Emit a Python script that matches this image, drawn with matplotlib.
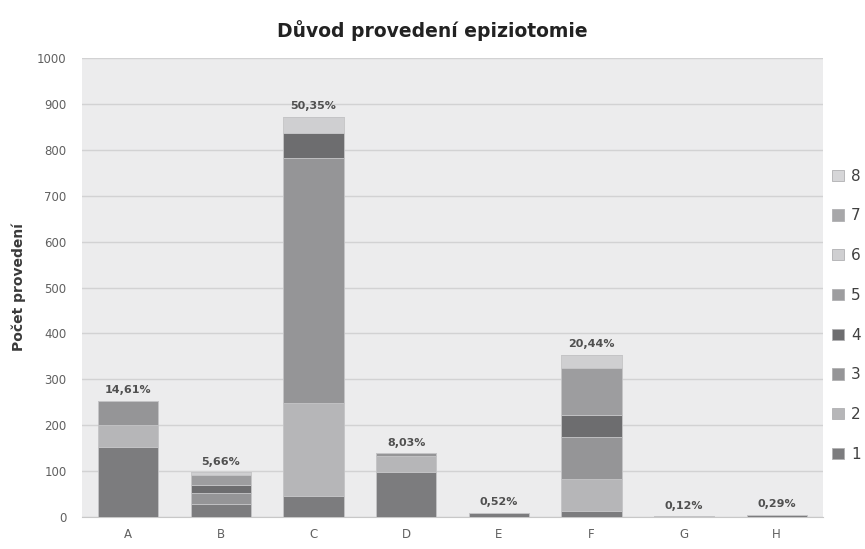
import numpy as np
import matplotlib.pyplot as plt
from matplotlib.patches import Patch

categories = ['A', 'B', 'C', 'D', 'E', 'F', 'G', 'H']
series_names = ['1', '2', '3', '4', '5', '6', '7', '8']

# counts per reason (rows = series 1..8, columns = A..H)
s1 = [153, 29, 46, 99, 9, 14, 2, 5]
s2 = [48, 0, 202, 34, 0, 68, 0, 0]
s3 = [52, 24, 535, 6, 0, 93, 0, 0]
s4 = [0, 16, 53, 0, 0, 48, 0, 0]
s5 = [0, 23, 0, 0, 0, 101, 0, 0]
s6 = [0, 6, 36, 0, 0, 30, 0, 0]
s7 = [0, 0, 0, 0, 0, 0, 0, 0]
s8 = [0, 0, 0, 0, 0, 0, 0, 0]

colors = ['#7c7c7e', '#b6b6b8', '#959597', '#6d6d6f',
          '#9d9d9f', '#cfcfd1', '#a7a7a9', '#d6d6d8']

data = np.array([s1, s2, s3, s4, s5, s6, s7, s8])
totals = data.sum(axis=0)
grand = totals.sum()

fig = plt.figure(figsize=(8.65, 5.49), dpi=100)
ax = fig.add_axes([0.0948, 0.0583, 0.8566, 0.836])
ax.set_facecolor('#ececed')

x = np.arange(len(categories))
bottom = np.zeros(len(categories))
for i, row in enumerate(data):
    ax.bar(x, row, bottom=bottom, width=0.65, color=colors[i],
           edgecolor='#c4c4c6', linewidth=0.6, zorder=3)
    bottom += row

for xi, t in zip(x, totals):
    pct = '{:.2f}%'.format(t / grand * 100).replace('.', ',')
    ax.text(xi, t + 12, pct, ha='center', va='bottom', fontsize=8,
            fontweight='bold', color='#505050', zorder=4)

ax.set_xlim(-0.5, len(categories) - 0.5)
ax.set_ylim(0, 1000)
ax.set_yticks(np.arange(0, 1001, 100))
ax.set_xticks(x)
ax.set_xticklabels(categories)
ax.tick_params(axis='both', length=0, labelsize=8.5, colors='#606060')
ax.tick_params(axis='y', pad=11)
ax.tick_params(axis='x', pad=8)
ax.grid(axis='y', color='#d2d2d3', linewidth=1.0, zorder=0)
for side in ['top', 'right', 'left']:
    ax.spines[side].set_visible(False)
ax.spines['bottom'].set_color('#c8c8c8')

ax.set_ylabel('Počet provedení', fontsize=10, fontweight='bold',
              color='#3a3a3a', labelpad=8)

fig.text(0.5, 0.945, 'Důvod provedení epiziotomie', ha='center',
         va='center', fontsize=13.5, fontweight='bold', color='#222222')

handles = [Patch(facecolor=colors[i], edgecolor='#b0b0b2', linewidth=0.6,
                 label=series_names[i]) for i in range(len(series_names))][::-1]
fig.legend(handles=handles, loc='upper left', bbox_to_anchor=(0.962, 0.693),
           frameon=False, fontsize=11, handlelength=0.75, handleheight=0.75,
           handletextpad=0.5, labelspacing=1.62, borderaxespad=0,
           borderpad=0, labelcolor='#404040')

fig.savefig('out.png', dpi=100)
